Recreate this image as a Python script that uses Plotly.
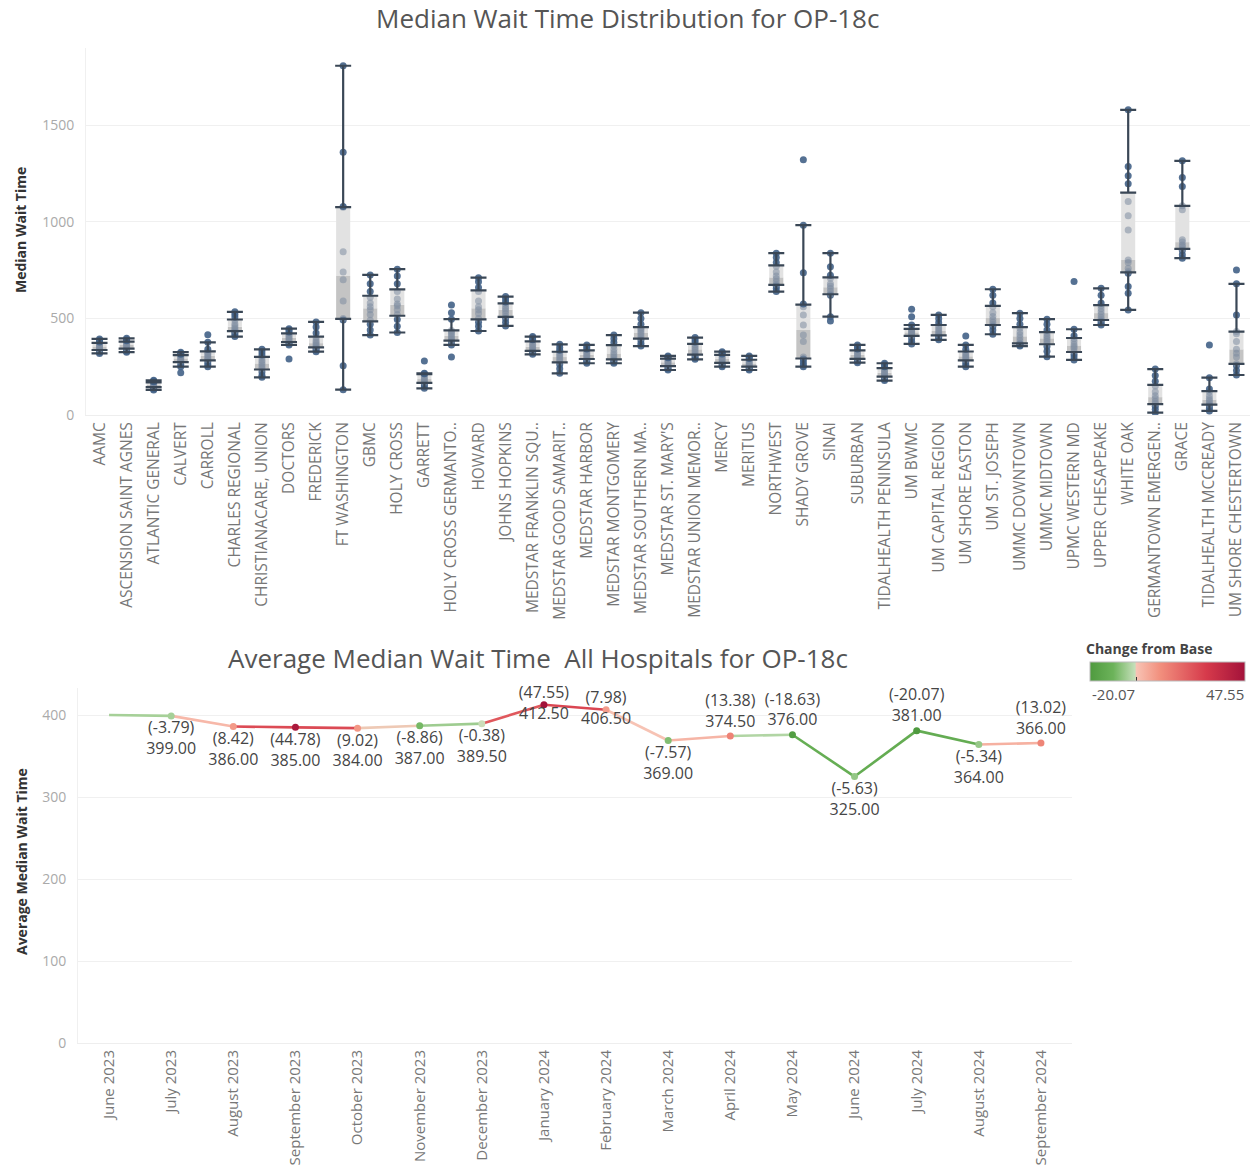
import numpy as np
import plotly.graph_objects as go
from plotly.colors import sample_colorscale

# ---------------- data: top chart (monthly median wait times per hospital) ----------------
HOSPITALS = ["AAMC", "ASCENSION SAINT AGNES", "ATLANTIC GENERAL", "CALVERT", "CARROLL",
             "CHARLES REGIONAL", "CHRISTIANACARE, UNION", "DOCTORS", "FREDERICK", "FT WASHINGTON",
             "GBMC", "HOLY CROSS", "GARRETT", "HOLY CROSS GERMANTO..", "HOWARD", "JOHNS HOPKINS",
             "MEDSTAR FRANKLIN SQU..", "MEDSTAR GOOD SAMARIT..", "MEDSTAR HARBOR", "MEDSTAR MONTGOMERY",
             "MEDSTAR SOUTHERN MA..", "MEDSTAR ST. MARY'S", "MEDSTAR UNION MEMOR..", "MERCY", "MERITUS",
             "NORTHWEST", "SHADY GROVE", "SINAI", "SUBURBAN", "TIDALHEALTH PENINSULA", "UM BWMC",
             "UM CAPITAL REGION", "UM SHORE EASTON", "UM ST. JOSEPH", "UMMC DOWNTOWN", "UMMC MIDTOWN",
             "UPMC WESTERN MD", "UPPER CHESAPEAKE", "WHITE OAK", "GERMANTOWN EMERGEN..", "GRACE",
             "TIDALHEALTH MCCREADY", "UM SHORE CHESTERTOWN"]

AAMC = [319, 325, 332, 338, 345, 352, 358, 364, 372, 378, 386, 394]
ASCENSION_SAINT_AGNES = [325, 330, 338, 345, 352, 360, 366, 372, 378, 384, 390, 397]
ATLANTIC_GENERAL = [130, 134, 140, 146, 150, 155, 160, 164, 168, 172, 176, 180]
CALVERT = [219, 250, 262, 278, 284, 290, 296, 302, 308, 314, 320, 325]
CARROLL = [250, 262, 275, 286, 294, 302, 310, 318, 326, 340, 376, 416]
CHARLES_REGIONAL = [406, 418, 428, 436, 444, 452, 462, 472, 490, 508, 522, 534]
CHRISTIANACARE_UNION = [195, 205, 222, 240, 250, 262, 272, 284, 298, 310, 326, 340]
DOCTORS = [290, 363, 372, 380, 388, 396, 404, 412, 420, 430, 440, 447]
FREDERICK = [328, 336, 345, 352, 360, 368, 376, 386, 400, 425, 455, 482]
FT_WASHINGTON = [131, 255, 492, 500, 590, 700, 740, 845, 1075, 1080, 1360, 1808]
GBMC = [414, 440, 470, 490, 520, 545, 560, 580, 610, 640, 680, 725]
HOLY_CROSS = [427, 460, 495, 520, 545, 565, 575, 600, 640, 680, 720, 755]
GARRETT = [138, 150, 160, 168, 175, 182, 190, 200, 210, 214, 216, 280]
HOLY_CROSS_GERMANTOWN = [300, 363, 378, 385, 392, 400, 410, 420, 430, 438, 496, 530, 570]
HOWARD = [435, 460, 480, 500, 525, 545, 560, 590, 640, 660, 690, 711]
JOHNS_HOPKINS = [461, 480, 500, 510, 525, 540, 550, 560, 575, 585, 600, 613]
MEDSTAR_FRANKLIN_SQUARE = [314, 322, 328, 334, 342, 350, 358, 366, 378, 390, 400, 406]
MEDSTAR_GOOD_SAMARITAN = [216, 240, 262, 276, 285, 295, 305, 315, 325, 335, 350, 366]
MEDSTAR_HARBOR = [268, 276, 284, 292, 300, 308, 316, 324, 332, 342, 352, 363]
MEDSTAR_MONTGOMERY = [268, 276, 282, 290, 300, 312, 325, 340, 358, 375, 395, 414]
MEDSTAR_SOUTHERN_MD = [357, 372, 388, 398, 410, 422, 432, 442, 450, 470, 500, 530]
MEDSTAR_ST_MARYS = [233, 240, 248, 255, 262, 270, 276, 282, 290, 296, 302, 306]
MEDSTAR_UNION_MEMORIAL = [288, 296, 305, 315, 325, 335, 345, 355, 365, 378, 390, 401]
MERCY = [250, 258, 265, 272, 280, 288, 295, 302, 310, 316, 322, 328]
MERITUS = [233, 240, 246, 252, 258, 264, 270, 276, 284, 292, 300, 306]
NORTHWEST = [639, 655, 668, 676, 690, 705, 720, 740, 770, 790, 815, 838]
SHADY_GROVE = [250, 260, 275, 290, 300, 380, 414, 466, 518, 560, 575, 737, 983, 1321]
SINAI = [487, 509, 620, 627, 640, 655, 668, 680, 708, 724, 768, 838]
SUBURBAN = [271, 278, 285, 292, 300, 308, 316, 324, 332, 342, 352, 363]
TIDALHEALTH_PENINSULA = [178, 186, 194, 200, 208, 215, 222, 230, 240, 250, 260, 268]
UM_BWMC = [368, 382, 398, 410, 416, 422, 428, 434, 440, 446, 466, 509, 547]
UM_CAPITAL_REGION = [389, 398, 406, 414, 422, 430, 440, 450, 462, 478, 498, 518]
UM_SHORE_EASTON = [250, 262, 275, 285, 292, 300, 308, 316, 325, 340, 363, 409]
UM_ST_JOSEPH = [418, 440, 460, 468, 480, 495, 510, 530, 560, 580, 620, 651]
UMMC_DOWNTOWN = [357, 362, 368, 372, 385, 400, 415, 430, 450, 470, 500, 527]
UMMC_MIDTOWN = [302, 330, 355, 370, 380, 392, 402, 412, 425, 440, 470, 496]
UPMC_WESTERN_MD = [285, 300, 315, 330, 345, 355, 365, 380, 395, 410, 444, 691]
UPPER_CHESAPEAKE = [466, 475, 485, 494, 505, 520, 535, 550, 565, 580, 620, 656]
WHITE_OAK = [544, 630, 665, 734, 743, 760, 790, 803, 958, 1031, 1105, 1197, 1238, 1287, 1580]
GERMANTOWN_EMERGENCY = [12, 30, 45, 60, 70, 85, 100, 120, 150, 175, 205, 238]
GRACE = [812, 830, 851, 860, 872, 880, 895, 907, 1062, 1083, 1183, 1230, 1316]
TIDALHEALTH_MCCREADY = [21, 35, 48, 55, 65, 75, 85, 100, 120, 135, 193, 363]
UM_SHORE_CHESTERTOWN = [207, 230, 255, 265, 300, 320, 340, 380, 420, 432, 518, 679, 751]

WAIT_LISTS = [AAMC, ASCENSION_SAINT_AGNES, ATLANTIC_GENERAL, CALVERT, CARROLL, CHARLES_REGIONAL,
              CHRISTIANACARE_UNION, DOCTORS, FREDERICK, FT_WASHINGTON, GBMC, HOLY_CROSS, GARRETT,
              HOLY_CROSS_GERMANTOWN, HOWARD, JOHNS_HOPKINS, MEDSTAR_FRANKLIN_SQUARE,
              MEDSTAR_GOOD_SAMARITAN, MEDSTAR_HARBOR, MEDSTAR_MONTGOMERY, MEDSTAR_SOUTHERN_MD,
              MEDSTAR_ST_MARYS, MEDSTAR_UNION_MEMORIAL, MERCY, MERITUS, NORTHWEST, SHADY_GROVE, SINAI,
              SUBURBAN, TIDALHEALTH_PENINSULA, UM_BWMC, UM_CAPITAL_REGION, UM_SHORE_EASTON,
              UM_ST_JOSEPH, UMMC_DOWNTOWN, UMMC_MIDTOWN, UPMC_WESTERN_MD, UPPER_CHESAPEAKE,
              WHITE_OAK, GERMANTOWN_EMERGENCY, GRACE, TIDALHEALTH_MCCREADY, UM_SHORE_CHESTERTOWN]

# ---------------- data: bottom chart ----------------
MONTHS = ["June 2023", "July 2023", "August 2023", "September 2023", "October 2023",
          "November 2023", "December 2023", "January 2024", "February 2024", "March 2024",
          "April 2024", "May 2024", "June 2024", "July 2024", "August 2024", "September 2024"]
AVG_MEDIAN = [400.0, 399.0, 386.0, 385.0, 384.0, 387.0, 389.5, 412.5, 406.5, 369.0,
              374.5, 376.0, 325.0, 381.0, 364.0, 366.0]
CHANGE = [None, -3.79, 8.42, 44.78, 9.02, -8.86, -0.38, 47.55, 7.98, -7.57,
          13.38, -18.63, -5.63, -20.07, -5.34, 13.02]

# ---------------- styles ----------------
FONT = "Open Sans"
LABEL_POS = ["bottom center", "bottom center", "bottom center", "bottom center", "bottom center",
             "bottom center", "bottom center", "middle center", "middle center", "bottom center",
             "top center", "top center", "bottom center", "top center", "bottom center", "top center"]
CSCALE = [[0.0, "#4f9a3f"], [0.15, "#6cb35a"], [0.29, "#c5dfba"], [0.30, "#f8c3b4"],
          [0.45, "#f2907e"], [0.75, "#d63a4b"], [1.0, "#a3123a"]]
W, H = 1250, 1168


def px_x(p):
    return p / W


def px_y(p):
    return 1 - p / H


fig = go.Figure()

# ---------- box statistics ----------
q1s, meds, q3s, lows, ups = [], [], [], [], []
pts_x, pts_y, pts_c = [], [], []
for name, vals in zip(HOSPITALS, WAIT_LISTS):
    a = np.array(vals, dtype=float)
    q1, md, q3 = np.percentile(a, [25, 50, 75])
    iqr = q3 - q1
    up = a[a <= q3 + 1.5 * iqr].max()
    lo = a[a >= q1 - 1.5 * iqr].min()
    q1s.append(q1); meds.append(md); q3s.append(q3); lows.append(lo); ups.append(up)
    for v in vals:
        pts_x.append(name)
        pts_y.append(v)
        inside = q1 <= v <= q3
        pts_c.append("rgba(125,140,160,0.55)" if inside else "rgba(66,98,135,0.9)")

q1s, meds, q3s, lows, ups = map(np.array, (q1s, meds, q3s, lows, ups))

# box halves (drawn in bar layer)
fig.add_trace(go.Bar(x=HOSPITALS, y=meds - q1s, base=q1s, width=0.52, xaxis="x", yaxis="y",
                     marker=dict(color="#c4c4c4", line=dict(width=0)),
                     showlegend=False, hoverinfo="skip"))
fig.add_trace(go.Bar(x=HOSPITALS, y=q3s - meds, base=meds, width=0.52, xaxis="x", yaxis="y",
                     marker=dict(color="#e2e2e2", line=dict(width=0)),
                     showlegend=False, hoverinfo="skip"))
# points
fig.add_trace(go.Scatter(x=pts_x, y=pts_y, mode="markers", xaxis="x", yaxis="y",
                         marker=dict(size=7, color=pts_c),
                         showlegend=False, hoverinfo="skip"))
# whiskers with caps
WH_COLOR = "#3a4756"
fig.add_trace(go.Scatter(x=HOSPITALS, y=q3s, mode="markers", xaxis="x", yaxis="y",
                         marker=dict(size=1, color="rgba(0,0,0,0)"),
                         error_y=dict(type="data", symmetric=False, array=ups - q3s,
                                      arrayminus=np.zeros(len(q3s)), width=8, thickness=2.2,
                                      color=WH_COLOR),
                         showlegend=False, hoverinfo="skip"))
fig.add_trace(go.Scatter(x=HOSPITALS, y=q1s, mode="markers", xaxis="x", yaxis="y",
                         marker=dict(size=1, color="rgba(0,0,0,0)"),
                         error_y=dict(type="data", symmetric=False, array=np.zeros(len(q1s)),
                                      arrayminus=q1s - lows, width=8, thickness=2.2,
                                      color=WH_COLOR),
                         showlegend=False, hoverinfo="skip"))

# ---------- bottom line chart ----------
valid = [c for c in CHANGE if c is not None]
cmin, cmax = min(valid), max(valid)


def norm(c):
    return (c - cmin) / (cmax - cmin)


for i in range(len(MONTHS) - 1):
    a, b = CHANGE[i], CHANGE[i + 1]
    ts = [norm(c) for c in (a, b) if c is not None]
    col = sample_colorscale(CSCALE, [sum(ts) / len(ts)])[0]
    fig.add_trace(go.Scatter(x=MONTHS[i:i + 2], y=AVG_MEDIAN[i:i + 2], mode="lines",
                             xaxis="x2", yaxis="y2", line=dict(color=col, width=2.6),
                             showlegend=False, hoverinfo="skip"))

idx = [i for i, c in enumerate(CHANGE) if c is not None]
fig.add_trace(go.Scatter(
    x=[MONTHS[i] for i in idx], y=[AVG_MEDIAN[i] for i in idx], mode="markers+text",
    xaxis="x2", yaxis="y2", cliponaxis=False,
    text=[f"({CHANGE[i]:.2f})<br>{AVG_MEDIAN[i]:.2f}" for i in idx],
    textposition=[LABEL_POS[i] for i in idx],
    textfont=dict(family=FONT, size=16, color="#454545"),
    marker=dict(size=7, color=[CHANGE[i] for i in idx], colorscale=CSCALE, cmin=cmin, cmax=cmax,
                colorbar=dict(orientation="h", x=px_x(1090), xanchor="left", y=px_y(662),
                              yanchor="top", len=155 / W, lenmode="fraction", thickness=19,
                              outlinewidth=1, outlinecolor="#bbbbbb", showticklabels=False,
                              tickvals=[0], ticks="inside", ticklen=4, tickcolor="#333",
                              xpad=0, ypad=0)),
    showlegend=False, hoverinfo="skip"))

# ---------- layout ----------
axis_common = dict(zeroline=False, fixedrange=True, automargin=False)
fig.update_layout(
    width=W, height=H, margin=dict(l=0, r=0, t=0, b=0),
    paper_bgcolor="white", plot_bgcolor="white", barmode="overlay",
    font=dict(family=FONT, color="#666"),
    xaxis=dict(domain=[px_x(86), 1.0], type="category", range=[-0.5, len(HOSPITALS) - 0.5],
               tickangle=-90, tickfont=dict(size=15.5, color="#777"), anchor="y", showgrid=False,
               showline=True, linecolor="#eeeeee", **axis_common),
    yaxis=dict(domain=[px_y(415), px_y(48)], range=[0, 1900], tickvals=[0, 500, 1000, 1500],
               showgrid=True, gridcolor="#f0f0f0", tickfont=dict(size=14, color="#aaa"),
               anchor="x", ticklabelstandoff=8, showline=True, linecolor="#f0f0f0",
               **axis_common),
    xaxis2=dict(domain=[px_x(78), px_x(1072)], type="category", range=[-0.5, len(MONTHS) - 0.5],
                tickangle=-90, tickfont=dict(size=15, color="#777"), anchor="y2", showgrid=False,
                showline=True, linecolor="#eeeeee", **axis_common),
    yaxis2=dict(domain=[px_y(1043), px_y(688)], range=[0, 433], dtick=100,
                showgrid=True, gridcolor="#f0f0f0", tickfont=dict(size=14, color="#aaa"),
                anchor="x2", ticklabelstandoff=8, showline=True, linecolor="#f0f0f0",
                **axis_common),
    annotations=[
        dict(text="Median Wait Time Distribution for OP-18c", x=px_x(627), y=px_y(18),
             xref="paper", yref="paper", showarrow=False, xanchor="center", yanchor="middle",
             font=dict(size=26, color="#555")),
        dict(text="Average Median Wait Time  All Hospitals for OP-18c", x=px_x(538), y=px_y(658),
             xref="paper", yref="paper", showarrow=False, xanchor="center", yanchor="middle",
             font=dict(size=26, color="#555")),
        dict(text="<b>Median Wait Time</b>", x=px_x(21), y=px_y(230), textangle=-90,
             xref="paper", yref="paper", showarrow=False, xanchor="center", yanchor="middle",
             font=dict(size=14, color="#333")),
        dict(text="<b>Average Median Wait Time</b>", x=px_x(21), y=px_y(862), textangle=-90,
             xref="paper", yref="paper", showarrow=False, xanchor="center", yanchor="middle",
             font=dict(size=14, color="#333")),
        dict(text="<b>Change from Base</b>", x=px_x(1084), y=px_y(648),
             xref="paper", yref="paper", showarrow=False, xanchor="left", yanchor="middle",
             font=dict(size=14, color="#444")),
        dict(text=f"{cmin:.2f}", x=px_x(1090), y=px_y(694),
             xref="paper", yref="paper", showarrow=False, xanchor="left", yanchor="middle",
             font=dict(size=15, color="#555")),
        dict(text=f"{cmax:.2f}", x=px_x(1246), y=px_y(694),
             xref="paper", yref="paper", showarrow=False, xanchor="right", yanchor="middle",
             font=dict(size=15, color="#555")),
    ],
)

fig.write_html("out.html", config={"displayModeBar": False},
               post_script="document.body.style.margin='0';document.body.style.padding='0';"
                           "document.documentElement.style.overflow='hidden';")
